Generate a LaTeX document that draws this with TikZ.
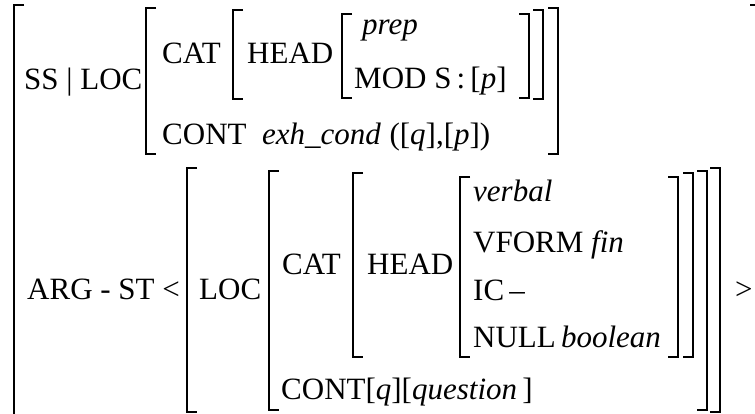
\documentclass[tikz,border=0pt]{standalone}
\usepackage{fontspec}
\setmainfont{Liberation Serif}
\newcommand{\avmL}[3]{\draw[brk] (#1+10,#2) -- (#1,#2) -- (#1,#3) -- (#1+10,#3);}
\newcommand{\avmR}[3]{\draw[brk] (#1-10,#2) -- (#1,#2) -- (#1,#3) -- (#1-10,#3);}
\begin{document}
\begin{tikzpicture}[x=1pt,y=-1pt,
  brk/.style={line width=1.1pt,line cap=butt,line join=miter},
  t/.style={inner sep=0pt,anchor=base west,font=\fontsize{31}{31}\selectfont}]
\useasboundingbox (0,0) rectangle (755,414);
\clip (0,0) rectangle (755,414);
% outer bracket
\draw[brk] (24,5) -- (14,5) -- (14,430);
\draw[brk] (750,5) -- (765,5) -- (765,430);
% ---- row 1 ----
\node[t] (ssloc) at (24,90) {SS | LOC};
\avmL{146}{8}{154}
\avmR{558}{8}{154}
\node[t] (cat1) at (162,64) {CAT};
\avmL{233}{10}{99}
\avmR{543}{10}{99}
\node[t] (head1) at (247,64) {HEAD};
\avmL{342}{14}{98}
\avmR{529}{14}{98}
\node[t] (prep) at (362,35) {\textit{prep}};
\node[t] (mod) at (354,89) {MOD S\,:\,[\textit{p}]};
\node[t] (cont1) at (162,145) {CONT\enspace\textit{exh\_cond}\;([\textit{q}],[\textit{p}])};
% ---- row 2 ----
\node[t] (argst) at (27,299) {ARG - ST <};
\avmL{187}{168}{412}
\avmR{720}{168}{412}
\node[t] (loc2) at (199,299) {LOC};
\avmL{269}{171}{410}
\avmR{707}{171}{410}
\node[t] (cat2) at (282,274) {CAT};
\avmL{353}{173}{357}
\avmR{693}{173}{357}
\node[t] (head2) at (367,274) {HEAD};
\avmL{460}{177}{357}
\avmR{678}{177}{357}
\node[t] (verbal) at (473,202) {\textit{verbal}};
\node[t] (vform) at (473,252) {VFORM \textit{fin}};
\node[t] (ic) at (473,300) {IC\,–};
\node[t] (null) at (473,347) {NULL\,\textit{boolean}};
\node[t] (cont2) at (281,399) {CONT[\textit{q}][\textit{question}\,]};
\node[t] (gt) at (735,299) {>};
\end{tikzpicture}
\end{document}
